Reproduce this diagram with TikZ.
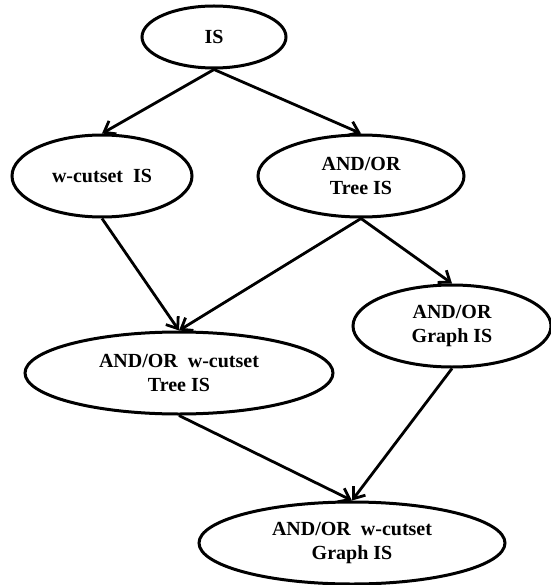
\documentclass[tikz,border=0pt]{standalone}
\usepackage{fontspec}
\setmainfont{Liberation Serif}
\usetikzlibrary{shapes.geometric,arrows.meta}
\begin{document}
\begin{tikzpicture}[x=1pt,y=-1pt,
  box/.style={ellipse, draw, line width=3pt, inner sep=0pt,
    align=center, font=\fontsize{20}{24}\selectfont\bfseries},
  link/.style={line width=2.8pt, -{Straight Barb[length=10pt,width=15pt]}}]
  \useasboundingbox (0,0) rectangle (550,585);

  \node[box, minimum width=144pt, minimum height=62pt] (is) at (214,37) {IS};
  \node[box, minimum width=180pt, minimum height=82pt] (wc) at (102,176) {w-cutset\ \ IS};
  \node[box, minimum width=206pt, minimum height=82pt] (at) at (361,176) {AND/OR\\Tree IS};
  \node[box, minimum width=198pt, minimum height=82pt] (ag) at (452,326) {AND/OR\\Graph IS};
  \node[box, minimum width=308pt, minimum height=82pt] (wt) at (179,373) {AND/OR\ \ w-cutset\\Tree IS};
  \node[box, minimum width=306pt, minimum height=82pt] (wg) at (352,543) {AND/OR\ \ w-cutset\\Graph IS};

  \draw[link] (is.south) -- (wc.north);
  \draw[link] (is.south) -- (at.north);
  \draw[link] (wc.south) -- (wt.north);
  \draw[link] (at.south) -- (wt.north);
  \draw[link] (at.south) -- (ag.north);
  \draw[link] (wt.south) -- (wg.north);
  \draw[link] (ag.south) -- (wg.north);
\end{tikzpicture}
\end{document}
